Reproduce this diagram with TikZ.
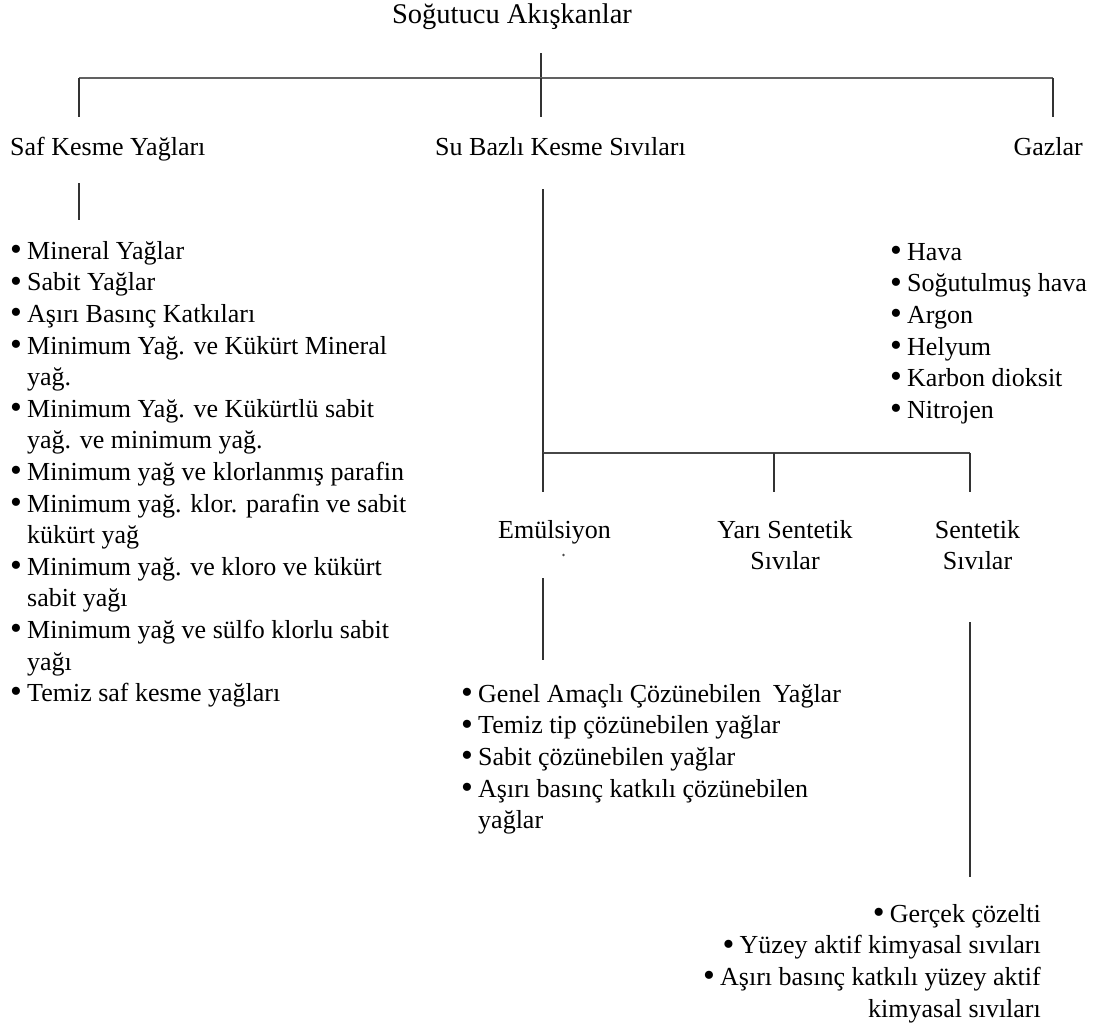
\documentclass[tikz,border=0pt]{standalone}
\usepackage{graphicx}
\usepackage{fontspec}
\setmainfont{Liberation Serif}
\newcommand\bodyfont{\fontsize{26}{31.6}\selectfont}
\newcommand\titlefont{\fontsize{28.5}{33}\selectfont}
\newcommand\bul{\makebox[14.5pt][l]{\hspace*{-2.6pt}\raisebox{-1.2pt}{\scalebox{1.3}{\textbullet}}}}
\newcommand\ind{\hspace*{14.5pt}}
\newcommand\topstrut{\rule{0pt}{24pt}}
\tikzset{
  lbl/.style={inner sep=0pt, font=\bodyfont},
  lst/.style={inner sep=0pt, font=\bodyfont},
  ln/.style={line width=1.3pt, draw=black!80},
  hln/.style={line width=2.6pt, draw=black!62},
  hln2/.style={line width=1.5pt, draw=black!72}
}
\begin{document}
\begin{tikzpicture}[x=1pt,y=-1pt]
\useasboundingbox[fill=white] (0,0) rectangle (1100,1026);

% titles and headers
\node[lbl, font=\titlefont, anchor=base] (title) at (512,23) {Soğutucu Akışkanlar};
\node[lbl, anchor=base west] (saf) at (10,155) {Saf Kesme Yağları};
\node[lbl, anchor=base west] (su) at (435,155) {Su Bazlı Kesme Sıvıları};
\node[lbl, anchor=base east] (gaz) at (1083,155) {Gazlar};

\node[lbl, anchor=north, align=center] (emu) at (554.5,514) {\topstrut Emülsiyon};
\fill[black!70] (563.5,555) circle (1.4pt);
\node[lbl, anchor=north, align=center] (yari) at (785,514) {\topstrut Yarı Sentetik\\Sıvılar};
\node[lbl, anchor=north, align=center] (sent) at (977.5,514) {\topstrut Sentetik\\Sıvılar};

% lists
\node[lst, anchor=north west, align=left] (lsaf) at (12.5,235) {\topstrut\bul Mineral Yağlar\\
\bul Sabit Yağlar\\
\bul Aşırı Basınç Katkıları\\
\bul Minimum Yağ. ve Kükürt Mineral\\
\ind yağ.\\
\bul Minimum Yağ. ve Kükürtlü sabit\\
\ind yağ. ve minimum yağ.\\
\bul Minimum yağ ve klorlanmış parafin\\
\bul Minimum yağ. klor. parafin ve sabit\\
\ind kükürt yağ\\
\bul Minimum yağ. ve kloro ve kükürt\\
\ind sabit yağı\\
\bul Minimum yağ ve sülfo klorlu sabit\\
\ind yağı\\
\bul Temiz saf kesme yağları};

\node[lst, anchor=north west, align=left] (lgaz) at (892.5,236) {\topstrut\bul Hava\\
\bul Soğutulmuş hava\\
\bul Argon\\
\bul Helyum\\
\bul Karbon dioksit\\
\bul Nitrojen};

\node[lst, anchor=north west, align=left] (lemu) at (463.5,678) {\topstrut\bul Genel Amaçlı Çözünebilen\hspace{5pt} Yağlar\\
\bul Temiz tip çözünebilen yağlar\\
\bul Sabit çözünebilen yağlar\\
\bul Aşırı basınç katkılı çözünebilen\\
\ind yağlar};

\node[lst, anchor=north east, align=right] (lsent) at (1041,898) {\topstrut\bul Gerçek çözelti\\
\bul Yüzey aktif kimyasal sıvıları\\
\bul Aşırı basınç katkılı yüzey aktif\\
kimyasal sıvıları};

% junction coordinates
\coordinate (t0) at (541,53);
\coordinate (j0) at (541,78);
\coordinate (jl) at (79,78);
\coordinate (jr) at (1053,78);
\coordinate (saftop) at (79,117);
\coordinate (sutop) at (541,117);
\coordinate (gaztop) at (1053,117);
\coordinate (safb1) at (79,183);
\coordinate (safb2) at (79,220);
\coordinate (sub1) at (543,189);
\coordinate (j1) at (543,453);
\coordinate (j1r) at (970,453);
\coordinate (j1m) at (774,453);
\coordinate (emutop) at (543,492);
\coordinate (yaritop) at (774,492);
\coordinate (senttop) at (970,492);
\coordinate (emub1) at (543,578);
\coordinate (emub2) at (543,660);
\coordinate (sentb1) at (970,622);
\coordinate (sentb2) at (970,877);

% connectors
\draw[ln] (t0) -- (j0);
\draw[hln] (jl) -- (jr);
\draw[ln] (jl) -- (saftop);
\draw[ln] (j0) -- (sutop);
\draw[ln] (jr) -- (gaztop);
\draw[ln] (safb1) -- (safb2);
\draw[ln] (sub1) -- (j1);
\draw[hln2] (j1) -- (j1r);
\draw[ln] (j1) -- (emutop);
\draw[ln] (j1m) -- (yaritop);
\draw[ln] (j1r) -- (senttop);
\draw[ln] (emub1) -- (emub2);
\draw[ln] (sentb1) -- (sentb2);
\end{tikzpicture}
\end{document}
